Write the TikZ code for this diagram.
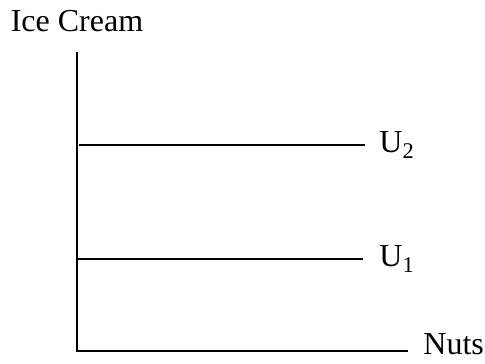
\documentclass[tikz,border=0pt]{standalone}
\usepackage{fontspec}
\setmainfont{Liberation Serif}
\usetikzlibrary{positioning}

\begin{document}
\begin{tikzpicture}[
    x=0.5pt, y=-0.5pt,
    every node/.style={font=\fontsize{16}{19}\selectfont, inner sep=0pt},
    axisline/.style={line width=0.9pt},
    utilline/.style={line width=0.9pt},
]
\useasboundingbox (0,0) rectangle (485,363);

% === Axes ===
\coordinate (origin) at (77,351);
\coordinate (ytop) at (77,52);
\coordinate (xend) at (408,351);
\draw[axisline] (ytop) -- (origin) -- (xend);

% axis labels
\node[above=10pt of ytop] (ylab) {Ice Cream};
\node[anchor=base west] (xlab) at ([xshift=7.5pt,yshift=-1.5pt]xend) {Nuts};

% === Utility levels ===
\coordinate (u2a) at (79,145);
\coordinate (u2b) at (365,145);
\coordinate (u1a) at (77,259);
\coordinate (u1b) at (363,259);
\draw[utilline] (u2a) -- (u2b);
\draw[utilline] (u1a) -- (u1b);
\node[right=7pt of u2b] (u2lab) {U\textsubscript{2}};
\node[right=8pt of u1b] (u1lab) {U\textsubscript{1}};

\end{tikzpicture}
\end{document}
